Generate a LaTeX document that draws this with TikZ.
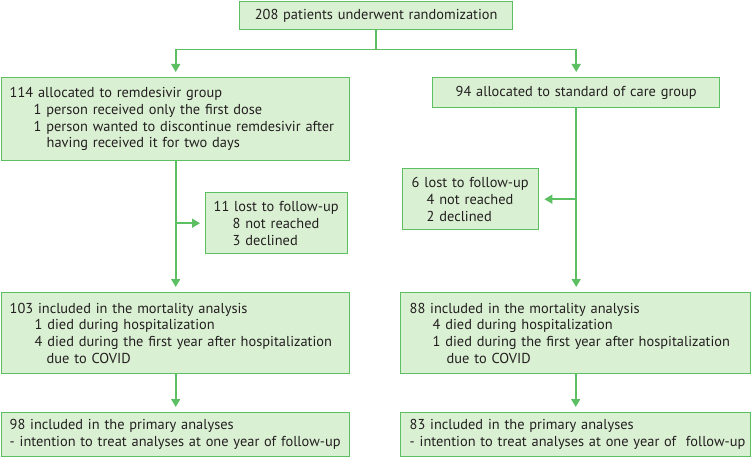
\documentclass[tikz,border=0pt]{standalone}
\usepackage{fontspec}
\setmainfont{PT Sans}
\usetikzlibrary{arrows.meta,positioning}

\definecolor{boxfill}{HTML}{DAF0D3}
\definecolor{boxline}{HTML}{5CBF62}
\definecolor{textgray}{HTML}{231F20}

\begin{document}
\begin{tikzpicture}[x=1pt,y=-1pt,
    box/.style={draw=boxline,fill=boxfill,line width=1.4pt,anchor=north west,
      inner xsep=8pt,inner ysep=0pt,align=left,text=textgray,
      font=\fontsize{14.4}{16.8}\selectfont},
    flow/.style={draw=boxline,line width=1.6pt,shorten >=5pt,
      -{Triangle[width=9pt,length=8pt]}}]
    \useasboundingbox (0,0) rectangle (751,457);
    \node[box,align=center,text width=257pt,minimum height=28pt] (rand) at (239,1)
      {208 patients underwent randomization};
    \node[box,text width=332pt,minimum height=83pt] (remd) at (1,77)
      {114 allocated to remdesivir group\\
       \hspace*{24pt}1 person received only the first dose\\
       \hspace*{24pt}1 person wanted to discontinue remdesivir after\\
       \hspace*{37pt}having received it for two days};
    \node[box,align=center,text width=271pt,minimum height=30pt] (soc) at (432,77)
      {94 allocated to standard of care group};
    \node[box,text width=126pt,minimum height=61pt] (lostL) at (205,192)
      {11 lost to follow-up\\
       \hspace*{19pt}8 not reached\\
       \hspace*{19pt}3 declined};
    \node[box,inner xsep=9pt,text width=118pt,minimum height=61pt] (lostR) at (402,168)
      {6 lost to follow-up\\
       \hspace*{15pt}4 not reached\\
       \hspace*{15pt}2 declined};
    \node[box,text width=332pt,minimum height=81pt] (mortL) at (1,292)
      {103 included in the mortality analysis\\
       \hspace*{25pt}1 died during hospitalization\\
       \hspace*{25pt}4 died during the first year after hospitalization\\
       \hspace*{37pt}due to COVID};
    \node[box,inner xsep=7pt,text width=336pt,minimum height=81pt] (mortR) at (400,292)
      {\hspace*{2pt}88 included in the mortality analysis\\
       \hspace*{25pt}4 died during hospitalization\\
       \hspace*{25pt}1 died during the first year after hospitalization\\
       \hspace*{39pt}due to COVID};
    \node[box,text width=332pt,minimum height=44pt] (primL) at (1,412)
      {98 included in the primary analyses\\
       - intention to treat analyses at one year of follow-up};
    \node[box,inner xsep=7pt,text width=336pt,minimum height=44pt] (primR) at (400,412)
      {\hspace*{2pt}83 included in the primary analyses\\
       \mbox{\hspace*{2pt}- intention to treat analyses at one year of\ \ follow-up}};
    % randomization split
    \coordinate[below=19pt of rand.south] (split);
    \draw[boxline,line width=1.6pt] (rand.south) -- (split);
    \draw[flow] (split) -| (remd.north);
    \draw[flow] (split) -| (soc.north);
    % remdesivir arm
    \draw[flow] (remd.south) -- (mortL.north);
    \draw[flow] (lostL.west -| remd.south) -- (lostL.west);
    \draw[flow] (mortL.south) -- (primL.north);
    % standard of care arm
    \draw[flow] (soc.south) -- (soc.south |- mortR.north);
    \draw[flow] (lostR.east -| soc.south) -- (lostR.east);
    \draw[flow] (mortR.south) -- (primR.north);
  \end{tikzpicture}
\end{document}
